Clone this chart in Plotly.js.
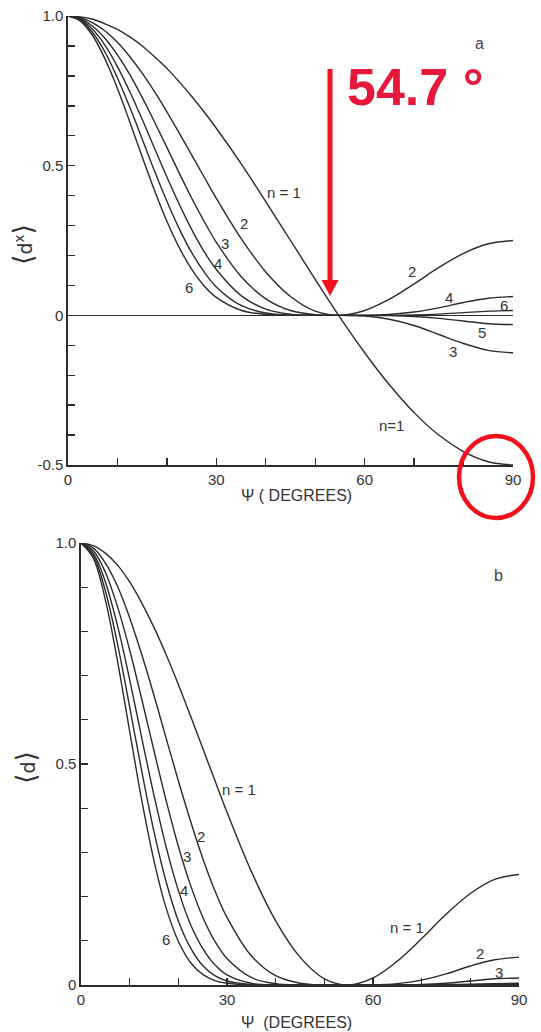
<!DOCTYPE html>
<html>
<head>
<meta charset="utf-8">
<script src="https://cdn.plot.ly/plotly-3.0.1.min.js"></script>
<style>
  html, body { margin: 0; padding: 0; background: #fff; }
  #chart { width: 541px; height: 1032px; }
</style>
</head>
<body>
<div id="chart"></div>
<script>
// Angle psi in degrees (shared sampling for both panels)
const psi = [0, 2.5, 5, 7.5, 10, 12.5, 15, 17.5, 20, 22.5, 25, 27.5, 30,
             35, 40, 45, 50, 55, 60, 65, 70, 75, 80, 85, 90];

// Panel a: <d^x> for n = 1..6
const dxN1 = [1, 0.997, 0.989, 0.974, 0.955, 0.930, 0.900, 0.864, 0.825, 0.780, 0.732, 0.680, 0.625,
              0.507, 0.380, 0.250, 0.120, -0.007, -0.125, -0.232, -0.325, -0.400, -0.455, -0.489, -0.500];
const dxN2 = [1, 0.994, 0.977, 0.950, 0.912, 0.864, 0.809, 0.747, 0.680, 0.609, 0.536, 0.463, 0.391,
              0.257, 0.145, 0.063, 0.014, 0.000, 0.016, 0.054, 0.105, 0.160, 0.207, 0.239, 0.250];
const dxN3 = [1, 0.991, 0.966, 0.925, 0.870, 0.804, 0.728, 0.646, 0.561, 0.475, 0.392, 0.315, 0.244,
              0.130, 0.055, 0.016, 0.002, 0.000, -0.002, -0.013, -0.034, -0.064, -0.094, -0.117, -0.125];
const dxN4 = [1, 0.989, 0.955, 0.902, 0.831, 0.747, 0.655, 0.558, 0.462, 0.371, 0.287, 0.214, 0.153,
              0.066, 0.021, 0.004, 0.000, 0.000, 0.000, 0.003, 0.011, 0.025, 0.043, 0.057, 0.063];
const dxN5 = [1, 0.986, 0.944, 0.879, 0.793, 0.695, 0.589, 0.482, 0.381, 0.289, 0.210, 0.146, 0.095,
              0.033, 0.008, 0.001, 0.000, 0.000, 0.000, -0.001, -0.004, -0.010, -0.019, -0.028, -0.031];
const dxN6 = [1, 0.983, 0.934, 0.856, 0.758, 0.646, 0.530, 0.417, 0.314, 0.226, 0.154, 0.099, 0.060,
              0.017, 0.003, 0.000, 0.000, 0.000, 0.000, 0.000, 0.001, 0.004, 0.009, 0.014, 0.016];

// Panel b: <d> for n = 1..6
const dN1 = [1, 0.994, 0.977, 0.950, 0.912, 0.864, 0.809, 0.747, 0.680, 0.609, 0.536, 0.463, 0.391,
             0.257, 0.145, 0.063, 0.014, 0.000, 0.016, 0.054, 0.105, 0.160, 0.207, 0.239, 0.250];
const dN2 = [1, 0.989, 0.955, 0.902, 0.831, 0.747, 0.655, 0.558, 0.462, 0.371, 0.287, 0.214, 0.153,
             0.066, 0.021, 0.004, 0.000, 0.000, 0.000, 0.003, 0.011, 0.025, 0.043, 0.057, 0.063];
const dN3 = [1, 0.983, 0.934, 0.856, 0.758, 0.646, 0.530, 0.417, 0.314, 0.226, 0.154, 0.099, 0.060,
             0.017, 0.003, 0.000, 0.000, 0.000, 0.000, 0.000, 0.001, 0.004, 0.009, 0.014, 0.016];
const dN4 = [1, 0.977, 0.912, 0.813, 0.691, 0.558, 0.429, 0.312, 0.214, 0.137, 0.083, 0.046, 0.023,
             0.004, 0.000, 0.000, 0.000, 0.000, 0.000, 0.000, 0.000, 0.001, 0.002, 0.003, 0.004];
const dN5 = [1, 0.972, 0.892, 0.772, 0.629, 0.483, 0.347, 0.233, 0.145, 0.084, 0.044, 0.021, 0.009,
             0.001, 0.000, 0.000, 0.000, 0.000, 0.000, 0.000, 0.000, 0.000, 0.000, 0.001, 0.001];
const dN6 = [1, 0.966, 0.872, 0.733, 0.574, 0.417, 0.281, 0.174, 0.099, 0.051, 0.024, 0.010, 0.004,
             0.000, 0.000, 0.000, 0.000, 0.000, 0.000, 0.000, 0.000, 0.000, 0.000, 0.000, 0.000];

// Labelled tick values
const xTicks = [0, 30, 60, 90];
const yTicksA = [-0.5, 0, 0.5, 1.0];
const yTickTextA = ['-0.5', '0', '0.5', '1.0'];
const yTicksB = [0, 0.5, 1.0];
const yTickTextB = ['0', '0.5', '1.0'];

const INK = '#2b2b2b';
const TXT = '#333333';
const RED = '#f2101c';
const FONT = 'Liberation Sans, Arial, Helvetica, sans-serif';

// pixel -> paper helpers for the 541 x 1032 page
const W = 541, H = 1032;
const PX = p => p / W;
const PY = p => 1 - p / H;

const seriesA = [dxN1, dxN2, dxN3, dxN4, dxN5, dxN6];
const seriesB = [dN1, dN2, dN3, dN4, dN5, dN6];

const traces = [];
seriesA.forEach((ys, i) => traces.push({
  x: psi, y: ys, xaxis: 'x', yaxis: 'y', type: 'scatter', mode: 'lines',
  name: 'n = ' + (i + 1), line: { color: INK, width: 1.4, shape: 'spline', smoothing: 1 },
  hoverinfo: 'skip', showlegend: false
}));
seriesB.forEach((ys, i) => traces.push({
  x: psi, y: ys, xaxis: 'x2', yaxis: 'y2', type: 'scatter', mode: 'lines',
  name: 'n = ' + (i + 1), line: { color: INK, width: 1.4, shape: 'spline', smoothing: 1 },
  hoverinfo: 'skip', showlegend: false
}));

const axisBase = {
  showline: true, linecolor: INK, linewidth: 1.6,
  showgrid: false, zeroline: false,
  ticks: 'inside', ticklen: 7, tickwidth: 1.4, tickcolor: INK,
  tickmode: 'array', fixedrange: true,
  tickfont: { family: FONT, size: 15, color: TXT }
};
const minorX = { ticks: 'inside', ticklen: 7, tickwidth: 1.4, tickcolor: INK, tick0: 0, dtick: 10, showgrid: false };
const minorY = { ticks: 'inside', ticklen: 7, tickwidth: 1.4, tickcolor: INK, tick0: 0, dtick: 0.1, showgrid: false };

// curve labels: [text, px, py]
const labelsA = [
  ['n = 1', 284, 192], ['2', 244, 224], ['3', 225, 244], ['4', 218, 263], ['6', 189, 287],
  ['2', 412, 271], ['4', 449, 297], ['6', 504, 305], ['5', 482, 332], ['3', 453, 352],
  ['n=1', 391, 425]
];
const labelsB = [
  ['n = 1', 239, 789], ['2', 201, 836], ['3', 187, 856], ['4', 184, 890], ['6', 166, 939],
  ['n = 1', 407, 927], ['2', 480, 953], ['3', 499, 972]
];

const annotations = [];
labelsA.concat(labelsB).forEach(([t, x, y]) => annotations.push({
  xref: 'paper', yref: 'paper', x: PX(x), y: PY(y), text: t, showarrow: false,
  xanchor: 'center', yanchor: 'middle', font: { family: FONT, size: 15, color: TXT }
}));

const bracket = s => `<span style="font-size:27px">${s}</span>`;

// axis titles and panel letters
annotations.push(
  { xref: 'paper', yref: 'paper', x: PX(296), y: PY(496), text: 'Ψ ( DEGREES)', showarrow: false,
    xanchor: 'center', yanchor: 'middle', font: { family: FONT, size: 16, color: TXT } },
  { xref: 'paper', yref: 'paper', x: PX(296), y: PY(1022), text: 'Ψ  (DEGREES)', showarrow: false,
    xanchor: 'center', yanchor: 'middle', font: { family: FONT, size: 16, color: TXT } },
  { xref: 'paper', yref: 'paper', x: PX(23), y: PY(245), text: bracket('⟨') + 'd<sup>x</sup>' + bracket('⟩'),
    textangle: -90, showarrow: false, xanchor: 'center', yanchor: 'middle',
    font: { family: 'DejaVu Sans, ' + FONT, size: 19, color: TXT } },
  { xref: 'paper', yref: 'paper', x: PX(25), y: PY(768), text: bracket('⟨') + 'd' + bracket('⟩'),
    textangle: -90, showarrow: false, xanchor: 'center', yanchor: 'middle',
    font: { family: 'DejaVu Sans, ' + FONT, size: 19, color: TXT } },
  { xref: 'paper', yref: 'paper', x: PX(479), y: PY(44), text: 'a', showarrow: false,
    xanchor: 'center', yanchor: 'middle', font: { family: FONT, size: 16, color: '#444' } },
  { xref: 'paper', yref: 'paper', x: PX(498), y: PY(575), text: 'b', showarrow: false,
    xanchor: 'center', yanchor: 'middle', font: { family: FONT, size: 16, color: '#444' } },
  // magic angle callout
  { xref: 'paper', yref: 'paper', x: PX(345), y: PY(87), text: '<b>54.7 °</b>', showarrow: false,
    xanchor: 'left', yanchor: 'middle', font: { family: FONT, size: 52, color: '#e8173c' } }
);

const shapes = [
  // arrow shaft and head pointing at the crossing
  { type: 'line', xref: 'paper', yref: 'paper', x0: PX(330), x1: PX(330), y0: PY(69), y1: PY(282),
    line: { color: RED, width: 5 } },
  { type: 'path', xref: 'paper', yref: 'paper',
    path: `M ${PX(321.5)} ${PY(280)} L ${PX(338.5)} ${PY(280)} L ${PX(330)} ${PY(296)} Z`,
    fillcolor: RED, line: { width: 0 } },
  // ring round the 90 degree end
  { type: 'circle', xref: 'paper', yref: 'paper', x0: PX(459), x1: PX(533), y0: PY(436), y1: PY(518),
    line: { color: RED, width: 4.5 } }
];

const layout = {
  width: W, height: H,
  margin: { l: 0, r: 0, t: 0, b: 0, pad: 0 },
  paper_bgcolor: '#ffffff', plot_bgcolor: 'rgba(0,0,0,0)',
  showlegend: false,
  xaxis: Object.assign({}, axisBase, {
    domain: [PX(68), PX(513)], range: [0, 90], anchor: 'y',
    tickvals: xTicks, minor: minorX
  }),
  yaxis: Object.assign({}, axisBase, {
    domain: [PY(465), PY(16)], range: [-0.5, 1.0], anchor: 'x',
    tickvals: yTicksA, ticktext: yTickTextA, minor: minorY,
    zeroline: true, zerolinecolor: INK, zerolinewidth: 1.4
  }),
  xaxis2: Object.assign({}, axisBase, {
    domain: [PX(81), PX(519)], range: [0, 90], anchor: 'y2',
    tickvals: xTicks, minor: minorX
  }),
  yaxis2: Object.assign({}, axisBase, {
    domain: [PY(985), PY(543)], range: [0, 1.0], anchor: 'x2',
    tickvals: yTicksB, ticktext: yTickTextB, minor: minorY
  }),
  annotations: annotations,
  shapes: shapes
};

Plotly.newPlot('chart', traces, layout, { staticPlot: true, displayModeBar: false });
</script>
</body>
</html>
